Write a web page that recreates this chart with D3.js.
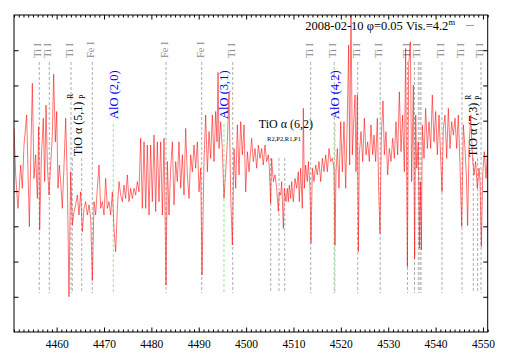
<!DOCTYPE html>
<html>
<head>
<meta charset="utf-8">
<script src="https://cdn.jsdelivr.net/npm/d3@7"></script>
<style>
  body { margin: 0; background: #fff; }
  svg { display: block; }
  text { font-family: 'Liberation Serif', 'Times New Roman', serif; }
</style>
</head>
<body>
<svg width="509" height="356"></svg>
<script>
// ---- spectrum (wavelength in A, relative flux) ----
var wave = [
  4451.00, 4451.35, 4451.84, 4452.41, 4452.76, 4453.11, 4453.67, 4454.24, 4454.52, 4454.87,
  4455.22, 4455.57, 4455.93, 4456.21, 4456.42, 4456.77, 4457.19, 4457.47, 4457.76, 4458.04,
  4458.39, 4458.74, 4459.09, 4459.37, 4459.73, 4460.01, 4460.29, 4460.57, 4460.85, 4461.20,
  4461.56, 4461.91, 4462.26, 4462.61, 4462.96, 4463.32, 4463.67, 4464.02, 4464.37, 4464.72,
  4465.07, 4465.43, 4465.78, 4466.13, 4466.48, 4466.83, 4467.19, 4467.54, 4467.89, 4468.24,
  4468.59, 4468.95, 4469.30, 4469.65, 4470.00, 4470.35, 4470.70, 4471.06, 4471.41, 4471.76,
  4472.11, 4472.46, 4472.82, 4473.17, 4473.52, 4473.87, 4474.22, 4474.57, 4474.93, 4475.28,
  4475.63, 4475.98, 4476.33, 4476.69, 4477.04, 4477.39, 4477.74, 4478.09, 4478.45, 4478.80,
  4479.15, 4479.50, 4479.85, 4480.20, 4480.56, 4480.91, 4481.26, 4481.61, 4481.96, 4482.32,
  4482.67, 4483.09, 4483.37, 4483.72, 4484.08, 4484.43, 4484.78, 4485.13, 4485.48, 4485.83,
  4486.19, 4486.54, 4486.89, 4487.24, 4487.59, 4487.95, 4488.30, 4488.65, 4489.00, 4489.35,
  4489.71, 4490.06, 4490.41, 4490.69, 4491.11, 4491.46, 4491.82, 4492.17, 4492.52, 4492.87,
  4493.22, 4493.58, 4493.86, 4494.07, 4494.28, 4494.63, 4494.98, 4495.33, 4495.69, 4496.04,
  4496.39, 4496.74, 4497.09, 4497.45, 4497.80, 4498.15, 4498.50, 4498.85, 4499.21, 4499.56,
  4499.91, 4500.26, 4500.61,
  4501.17, 4501.52, 4501.88, 4502.23, 4502.58, 4502.93, 4503.28, 4503.63, 4503.99, 4504.34,
  4504.69, 4504.90, 4505.18, 4505.39, 4505.75, 4506.10, 4506.45, 4506.80, 4507.01, 4507.29,
  4507.51, 4507.86, 4508.07, 4508.42, 4508.70, 4508.91, 4509.12, 4509.41, 4509.62, 4509.97,
  4510.32, 4510.67, 4511.02, 4511.23, 4511.52, 4511.87, 4512.08, 4512.29, 4512.57, 4512.92,
  4513.14, 4513.49, 4513.70, 4513.98, 4514.33, 4514.68, 4515.03, 4515.39, 4515.74, 4516.09,
  4516.44, 4516.79, 4517.15, 4517.50, 4517.85, 4518.20, 4518.55, 4518.76, 4518.98, 4519.26,
  4519.61, 4519.96, 4520.31, 4520.66, 4521.02, 4521.37, 4521.65, 4521.86, 4522.14, 4522.42,
  4522.78, 4522.99, 4523.20, 4523.48, 4523.69, 4523.90, 4524.25, 4524.61, 4524.96, 4525.31,
  4525.66, 4526.01, 4526.36, 4526.72, 4527.00, 4527.35, 4527.70, 4527.98, 4528.26, 4528.55,
  4528.90, 4529.18, 4529.53, 4529.88, 4530.23, 4530.59, 4530.94, 4531.29, 4531.64, 4531.99,
  4532.35, 4532.70, 4533.05, 4533.40, 4533.68, 4534.04, 4534.32, 4534.67, 4534.95, 4535.30,
  4535.58, 4535.80, 4536.01, 4536.36, 4536.57, 4536.78, 4536.99, 4537.20, 4537.55, 4537.90,
  4538.26, 4538.61, 4538.96, 4539.31, 4539.66, 4540.02, 4540.37, 4540.72, 4541.00, 4541.35,
  4541.63, 4541.99, 4542.34, 4542.69, 4543.04, 4543.39, 4543.75, 4544.10, 4544.45, 4544.80,
  4545.15, 4545.51, 4545.86, 4546.21, 4546.49, 4546.77, 4547.05, 4547.41, 4547.76, 4548.11,
  4548.46, 4548.81, 4549.17, 4549.38, 4549.66, 4549.94, 4550.29, 4550.64, 4550.92
];
var flux = [
  5.78, 4.46, 3.51, 4.74, 4.08, 5.31, 6.16, 2.99, 4.84, 7.06,
  4.36, 5.03, 3.79, 5.83, 2.90, 4.93, 6.07, 4.27, 6.44, 4.74,
  3.89, 4.74, 5.59, 7.32, 5.40, 6.26, 4.08, 4.74, 4.27, 3.51,
  4.74, 6.07, 4.27, 1.00, 4.55, 3.04, 3.42, 3.61, 3.89, 3.32,
  3.98, 2.85, 3.51, 3.70, 3.32, 3.61, 3.23, 1.46, 3.70, 3.32,
  4.08, 4.74, 3.51, 3.70, 3.32, 4.36, 3.51, 3.70, 3.32, 3.98,
  2.94, 2.28, 3.51, 4.27, 3.89, 3.70, 4.17, 3.79, 4.46, 3.70,
  4.08, 3.79, 4.08, 3.89, 4.27, 3.98, 5.50, 3.51, 5.40, 3.51,
  5.31, 3.32, 5.31, 3.70, 5.59, 3.42, 5.40, 3.70, 5.40, 3.32,
  5.50, 1.33, 4.84, 3.32, 4.65, 5.40, 3.61, 4.84, 4.27, 5.40,
  4.08, 5.03, 3.89, 5.78, 4.46, 3.79, 5.03, 4.55, 5.31, 4.65,
  5.40, 3.98, 4.65, 1.62, 4.84, 6.16, 4.55, 5.69, 4.93, 6.16,
  4.84, 6.26, 5.40, 7.37, 5.21, 5.97, 5.21, 3.79, 4.55, 5.40,
  6.80, 3.89, 2.47, 5.21, 4.08, 5.88, 4.46, 5.97, 5.03, 5.88,
  3.98, 5.12, 4.55,
  5.50, 4.84, 5.21, 4.65, 5.31, 4.93, 5.21, 4.74, 5.31, 4.84,
  5.03, 4.65, 3.65, 4.93, 4.27, 4.46, 4.08, 3.42, 3.98, 3.89,
  4.27, 2.94, 4.08, 3.70, 4.08, 3.70, 4.17, 3.79, 4.27, 3.70,
  4.36, 4.08, 4.55, 3.70, 4.65, 3.51, 6.35, 4.08, 4.74, 4.27,
  4.84, 4.08, 2.52, 4.65, 4.27, 4.74, 4.46, 4.84, 4.27, 4.93,
  4.55, 5.03, 4.55, 5.21, 4.84, 4.93, 4.65, 2.47, 4.55, 5.21,
  4.08, 5.97, 4.55, 5.97, 4.08, 6.16, 8.15, 4.74, 9.30, 5.03,
  6.16, 6.73, 4.55, 6.73, 2.28, 5.03, 5.69, 4.84, 6.07, 5.03,
  5.40, 4.84, 5.88, 5.03, 5.59, 4.84, 6.07, 4.08, 2.80, 5.59,
  6.56, 5.03, 5.69, 4.46, 5.21, 4.84, 5.50, 4.93, 5.97, 5.03,
  6.82, 5.12, 6.16, 4.55, 8.05, 1.85, 7.58, 8.24, 4.27, 7.01,
  2.09, 6.16, 4.65, 5.40, 2.38, 4.27, 2.33, 5.88, 4.93, 6.35,
  5.21, 5.97, 5.21, 6.73, 5.40, 6.26, 5.03, 6.16, 5.21, 3.98,
  5.78, 6.16, 4.93, 6.35, 5.21, 5.97, 5.59, 6.07, 5.21, 6.16,
  4.74, 2.99, 5.88, 5.21, 4.46, 3.02, 5.21, 6.16, 5.03, 4.46,
  4.84, 4.08, 4.65, 4.27, 2.42, 4.46, 5.12, 4.36, 5.03
];

// ---- line identifications (A) ----
var tiLines = [4456.34, 4458.45, 4463.03, 4497.17, 4513.63, 4518.60, 4523.56, 4528.31,
               4534.07, 4536.35, 4541.35, 4545.57, 4549.59];
var feLines = [4467.53, 4483.09, 4490.62];
var extraLines = [4535.55, 4536.71, 4536.92];
var tioLines = [4463.31, 4465.29, 4505.19, 4506.94, 4508.15, 4547.96, 4548.87];
var aloLines = [4471.96, 4495.33, 4518.76];
var aloNames = ['AlO (2,0)', 'AlO (3,1)', 'AlO (4,2)'];

var xTicks = [4460, 4470, 4480, 4490, 4500, 4510, 4520, 4530, 4540, 4550];
var yTicks = [1, 2, 3, 4, 5, 6, 7, 8];
var legendLabel = '2008-02-10 \u03c6=0.05 Vis.=4.2';

// ************************************************************************************** //

var svg = d3.select('svg');
var L = 14, R = 487.7, T = 15, B = 332;
var x = d3.scaleLinear().domain([4451, 4551]).range([L, R]);
var y = d3.scaleLinear().domain([0, 9]).range([B, T]);
var lineBottom = 293;

// dashed identification lines
var lines_g = svg.append('g');
function idLines(data, top, color){
  lines_g.selectAll(null).data(data).enter().append('line')
    .attr('x1', d => x(d)).attr('x2', d => x(d))
    .attr('y1', top).attr('y2', lineBottom)
    .style('stroke', color).style('stroke-width', 1).style('stroke-dasharray', '3,2');
}
idLines(tiLines.concat(feLines, extraLines), 62, '#b0b0b0');
idLines(tioLines, 158, '#b0b0b0');
idLines(aloLines, 124, '#8ef08e');

// labels
var lab_g = svg.append('g');
function rotLabel(w, y0, txt, size, color){
  return lab_g.append('text').attr('transform', 'translate(' + x(w) + ',' + y0 + ') rotate(-90)')
    .attr('dy', '0.35em').style('font-size', size + 'px').style('fill', color).text(txt);
}
tiLines.forEach(w => rotLabel(w - 0.35, 58, 'Ti I', 10.5, '#8a8a8a'));
feLines.forEach(w => rotLabel(w - 0.35, 58, 'Fe I', 10.5, '#8a8a8a'));
aloLines.forEach((w, i) => rotLabel(w, 119, aloNames[i], 12.5, '#0000ff'));

rotLabel(4464.5, 156, 'TiO \u03b1 (5,1)', 12, '#000');
rotLabel(4462.95, 99, 'R', 8, '#000');
rotLabel(4465.45, 99, 'P', 8, '#000');
rotLabel(4547.8, 157, 'TiO \u03b1 (7,3)', 12, '#000');
rotLabel(4546.85, 100, 'R', 8, '#000');
rotLabel(4548.95, 100, 'P', 8, '#000');

lab_g.append('text').attr('x', x(4508.4)).attr('y', 128).style('text-anchor', 'middle')
  .style('font-size', '12px').text('TiO \u03b1 (6,2)');
lab_g.append('text').attr('x', x(4508.0)).attr('y', 141).style('text-anchor', 'middle')
  .style('font-size', '6.5px').style('fill', '#000').text('R2,P2,R1,P1');

// spectrum, drawn segment by segment so overlaps darken
svg.append('clipPath').attr('id', 'plotclip').append('rect')
  .attr('x', L).attr('y', T).attr('width', R - L).attr('height', B - T);
var pts = wave.map((w, i) => [x(w), y(flux[i])]);
svg.append('g').attr('clip-path', 'url(#plotclip)')
  .selectAll('line').data(d3.pairs(pts)).enter().append('line')
  .attr('x1', d => d[0][0]).attr('y1', d => d[0][1])
  .attr('x2', d => d[1][0]).attr('y2', d => d[1][1])
  .style('stroke', '#ff0000').style('stroke-opacity', 0.55).style('stroke-width', 1);

// axes: ticks point inward, no y labels
var minor = d3.range(4451, 4552).filter(v => v % 10 != 0);
function xAxis(gen, ty, size, vals, fmt){
  var g = svg.append('g').attr('transform', 'translate(0,' + ty + ')')
    .call(gen(x).tickValues(vals).tickSize(size).tickPadding(8).tickFormat(fmt));
  g.select('.domain').remove();
  g.selectAll('line').style('stroke', '#000');
  return g;
}
var bot = xAxis(d3.axisBottom, B, -4.5, xTicks, d3.format('d'));
bot.selectAll('text').style('font-size', '11.5px').style('font-family', "'Liberation Serif', serif").style('fill', '#000');
xAxis(d3.axisBottom, B, -2.5, minor, '');
xAxis(d3.axisTop, T, -4.5, xTicks, '');
xAxis(d3.axisTop, T, -2.5, minor, '');

function yAxis(gen, tx){
  var g = svg.append('g').attr('transform', 'translate(' + tx + ',0)')
    .call(gen(y).tickValues(yTicks).tickSize(-4.5).tickFormat(''));
  g.select('.domain').remove();
  g.selectAll('line').style('stroke', '#000');
}
yAxis(d3.axisLeft, L);
yAxis(d3.axisRight, R);

// frame
svg.append('rect').attr('x', L).attr('y', T).attr('width', R - L).attr('height', B - T)
  .style('fill', 'none').style('stroke', '#000').style('stroke-width', 1);

// key
var key = svg.append('text').attr('x', 455).attr('y', 30).style('text-anchor', 'end').style('font-size', '12.5px');
key.append('tspan').text(legendLabel);
key.append('tspan').attr('dy', -5).style('font-size', '8.5px').text('m');
svg.append('line').attr('x1', 466).attr('x2', 474).attr('y1', 25.5).attr('y2', 25.5)
  .style('stroke', '#ff0000').style('stroke-opacity', 0.55);
</script>
</body>
</html>
